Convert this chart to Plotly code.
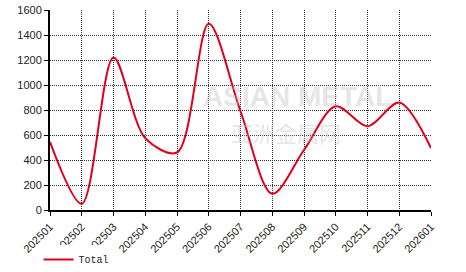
import plotly.graph_objects as go

months = ["202501", "202502", "202503", "202504", "202505", "202506", "202507",
          "202508", "202509", "202510", "202511", "202512", "202601"]
total = [545, 50, 1220, 575, 460, 1490, 790, 130, 480, 830, 670, 860, 495]
y_ticks = [0, 200, 400, 600, 800, 1000, 1200, 1400, 1600]

fig = go.Figure()
fig.add_trace(go.Scatter(
    x=list(range(len(months))), y=total, mode="lines", name="Total",
    line=dict(color="#e0001b", width=2, shape="spline", smoothing=0.9),
))

fig.add_annotation(text="<b>ASIAN METAL</b>", xref="paper", yref="paper", x=0.65, y=0.57,
                   showarrow=False, font=dict(family="Liberation Sans", size=28, color="rgba(190,190,190,0.4)"))
fig.add_annotation(text="亚洲金属网", xref="paper", yref="paper", x=0.62, y=0.39,
                   showarrow=False, font=dict(family="Noto Sans CJK SC", size=22, color="rgba(190,190,190,0.4)"))

fig.update_layout(
    width=466, height=272,
    margin=dict(l=50, r=35, t=10, b=62, autoexpand=False),
    paper_bgcolor="white", plot_bgcolor="white",
    showlegend=True,
    legend=dict(orientation="h", x=-0.03, y=-0.175, xanchor="left", yanchor="top",
                font=dict(family="Liberation Mono", size=10, color="#222")),
    xaxis=dict(
        range=[0, len(months) - 1], tickmode="array", automargin=False,
        tickvals=list(range(len(months))), ticktext=months, tickangle=-45,
        showgrid=True, gridcolor="#333", griddash="1px,1px", gridwidth=1,
        showline=True, linecolor="black", linewidth=2, mirror=False,
        ticks="outside", ticklen=4, tickcolor="black",
        tickfont=dict(family="Liberation Sans", size=11, color="#222"),
        zeroline=False,
    ),
    yaxis=dict(
        range=[0, 1600], tickmode="array", tickvals=y_ticks, automargin=False,
        showgrid=True, gridcolor="#333", griddash="1px,1px", gridwidth=1,
        showline=True, linecolor="black", linewidth=2,
        ticks="outside", ticklen=4, tickcolor="black",
        tickfont=dict(family="Liberation Sans", size=11, color="#222"),
        zeroline=False,
    ),
)

fig.write_html("out.html")
